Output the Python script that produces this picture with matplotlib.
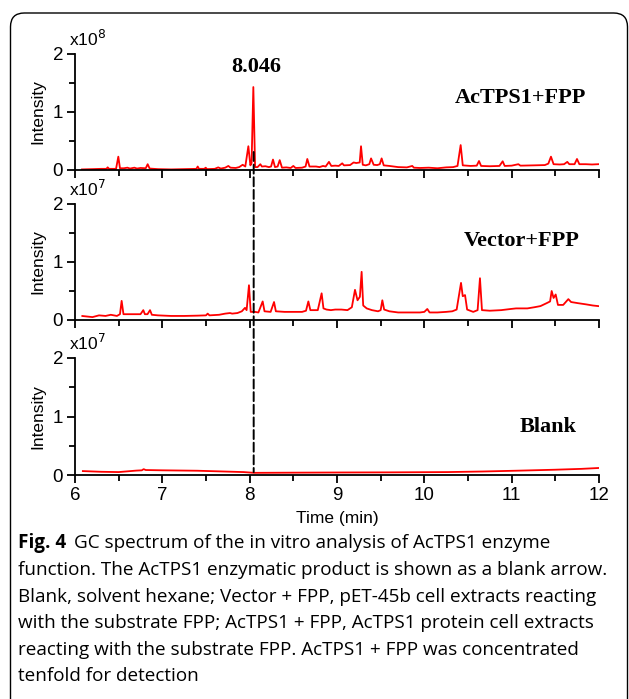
import matplotlib
matplotlib.use("Agg")
import matplotlib.pyplot as plt
import numpy as np
from matplotlib.patches import FancyBboxPatch, ConnectionPatch
from matplotlib.ticker import MultipleLocator

# Retention time (min) and intensity
# AcTPS1 + FPP, intensity in units of 1e8
ac_time = [6.08, 6.20, 6.30, 6.36, 6.374, 6.39, 6.47, 6.496, 6.515, 6.56, 6.60, 6.63, 6.68,
           6.71, 6.75, 6.81, 6.832, 6.855, 6.95, 7.10, 7.25, 7.39, 7.405, 7.42, 7.48, 7.497,
           7.51, 7.60, 7.64, 7.67, 7.72, 7.756, 7.78, 7.84, 7.88, 7.92, 7.95, 7.985, 8.008,
           8.022, 8.042, 8.062, 8.09, 8.122, 8.14, 8.18, 8.22, 8.245, 8.267, 8.29, 8.32, 8.344,
           8.37, 8.42, 8.47, 8.50, 8.525, 8.60, 8.64, 8.66, 8.685, 8.76, 8.80, 8.84, 8.87,
           8.908, 8.935, 8.98, 9.02, 9.06, 9.08, 9.15, 9.19, 9.22, 9.26, 9.275, 9.295, 9.33,
           9.37, 9.39, 9.42, 9.46, 9.49, 9.511, 9.535, 9.60, 9.70, 9.80, 9.862, 9.88, 9.95,
           10.05, 10.15, 10.25, 10.33, 10.38, 10.416, 10.44, 10.53, 10.60, 10.626, 10.65,
           10.75, 10.86, 10.897, 10.92, 11.00, 11.077, 11.10, 11.25, 11.38, 11.42, 11.45,
           11.48, 11.55, 11.60, 11.637, 11.66, 11.72, 11.748, 11.775, 11.85, 11.92, 11.99]
ac_int = [0.010, 0.015, 0.020, 0.020, 0.046, 0.020, 0.020, 0.230, 0.030, 0.030, 0.040, 0.025,
          0.040, 0.025, 0.035, 0.030, 0.100, 0.025, 0.015, 0.010, 0.015, 0.020, 0.060, 0.020,
          0.020, 0.040, 0.015, 0.020, 0.045, 0.025, 0.040, 0.070, 0.040, 0.035, 0.050, 0.090,
          0.060, 0.410, 0.080, 0.120, 1.430, 0.050, 0.050, 0.100, 0.060, 0.065, 0.050, 0.060,
          0.180, 0.050, 0.060, 0.170, 0.040, 0.045, 0.035, 0.070, 0.035, 0.040, 0.060, 0.190,
          0.060, 0.060, 0.050, 0.070, 0.060, 0.140, 0.070, 0.075, 0.070, 0.115, 0.080, 0.085,
          0.130, 0.120, 0.130, 0.410, 0.090, 0.080, 0.100, 0.200, 0.090, 0.085, 0.100, 0.200,
          0.080, 0.070, 0.050, 0.045, 0.070, 0.040, 0.035, 0.040, 0.030, 0.045, 0.050, 0.070,
          0.430, 0.080, 0.070, 0.075, 0.155, 0.070, 0.065, 0.070, 0.150, 0.070, 0.075, 0.100,
          0.075, 0.080, 0.085, 0.110, 0.230, 0.100, 0.095, 0.100, 0.140, 0.100, 0.100, 0.190,
          0.100, 0.100, 0.095, 0.100]

# Vector + FPP, intensity in units of 1e7
vec_time = [6.084, 6.20, 6.275, 6.35, 6.41, 6.48, 6.515, 6.534, 6.555, 6.60, 6.68, 6.75, 6.782,
            6.80, 6.83, 6.859, 6.88, 6.95, 7.10, 7.25, 7.40, 7.50, 7.519, 7.54, 7.65, 7.72,
            7.775, 7.80, 7.86, 7.91, 7.947, 7.965, 7.992, 8.012, 8.06, 8.10, 8.149, 8.17, 8.24,
            8.279, 8.30, 8.40, 8.50, 8.60, 8.645, 8.672, 8.695, 8.78, 8.824, 8.845, 8.88, 8.93,
            8.98, 9.05, 9.12, 9.17, 9.206, 9.235, 9.262, 9.282, 9.30, 9.34, 9.40, 9.47, 9.50,
            9.519, 9.54, 9.60, 9.70, 9.82, 9.95, 10.00, 10.034, 10.06, 10.15, 10.25, 10.32,
            10.37, 10.42, 10.44, 10.466, 10.49, 10.56, 10.61, 10.637, 10.66, 10.75, 10.88,
            10.99, 11.05, 11.10, 11.18, 11.26, 11.33, 11.40, 11.44, 11.458, 11.48, 11.504,
            11.53, 11.59, 11.649, 11.68, 11.76, 11.85, 11.93, 11.99]
vec_int = [0.069, 0.050, 0.080, 0.070, 0.090, 0.070, 0.100, 0.330, 0.100, 0.100, 0.100, 0.100,
           0.170, 0.100, 0.100, 0.170, 0.090, 0.080, 0.070, 0.070, 0.075, 0.080, 0.110, 0.080,
           0.090, 0.110, 0.120, 0.110, 0.120, 0.150, 0.210, 0.170, 0.600, 0.140, 0.140, 0.130,
           0.320, 0.150, 0.140, 0.310, 0.150, 0.140, 0.140, 0.140, 0.160, 0.320, 0.170, 0.170,
           0.460, 0.200, 0.180, 0.170, 0.180, 0.180, 0.170, 0.220, 0.520, 0.340, 0.400, 0.830,
           0.250, 0.200, 0.170, 0.150, 0.170, 0.340, 0.180, 0.150, 0.130, 0.130, 0.130, 0.140,
           0.190, 0.130, 0.130, 0.140, 0.150, 0.180, 0.640, 0.410, 0.430, 0.180, 0.140, 0.170,
           0.720, 0.170, 0.160, 0.170, 0.190, 0.200, 0.200, 0.200, 0.220, 0.240, 0.290, 0.320,
           0.500, 0.380, 0.440, 0.260, 0.260, 0.360, 0.310, 0.290, 0.270, 0.250, 0.240]

# Blank (hexane), intensity in units of 1e7
blank_time = [6.09, 6.30, 6.50, 6.70, 6.765, 6.786, 6.81, 7.00, 7.40, 7.70, 7.93, 8.05, 8.50,
              9.04, 9.60, 10.27, 10.67, 11.10, 11.49, 11.80, 12.00]
blank_int = [0.067, 0.055, 0.050, 0.075, 0.080, 0.100, 0.085, 0.080, 0.073, 0.060, 0.050, 0.037,
             0.040, 0.043, 0.045, 0.050, 0.060, 0.075, 0.090, 0.105, 0.120]

panel_names = ["AcTPS1+FPP", "Vector+FPP", "Blank"]
panel_exps = [8, 7, 7]
product_rt = 8.046

W, H = 629, 699
fig = plt.figure(figsize=(W / 100, H / 100), dpi=100)

# rounded frame around figure + caption
frame = FancyBboxPatch((10.5 / W, -0.05), 617 / W, 1.05 - 13 / H,
                       boxstyle="round,pad=0,rounding_size=0.022",
                       transform=fig.transFigure, fill=False, ec="black", lw=1.0,
                       mutation_aspect=W / H)
fig.patches.append(frame)

sans = "Liberation Sans"
serif = "Liberation Serif"

left, right = 75 / W, 599 / W
panels = [(54, 170), (204, 320), (358, 475)]
axes = []
for top, bot in panels:
    ax = fig.add_axes([left, 1 - bot / H, right - left, (bot - top) / H])
    axes.append(ax)

traces = [(ac_time, ac_int), (vec_time, vec_int), (blank_time, blank_int)]
for i, ax in enumerate(axes):
    t, y = traces[i]
    ax.plot(t, y, color="#ff0000", lw=1.3)
    ax.set_xlim(6, 12)
    ax.set_ylim(0, 2)
    for s in ["top", "right"]:
        ax.spines[s].set_visible(False)
    for s in ["left", "bottom"]:
        ax.spines[s].set_linewidth(1.3)
    ax.xaxis.set_major_locator(MultipleLocator(1))
    ax.xaxis.set_minor_locator(MultipleLocator(0.5))
    ax.yaxis.set_major_locator(MultipleLocator(1))
    ax.yaxis.set_minor_locator(MultipleLocator(0.5))
    ax.tick_params(which="major", length=5.5, width=1.3, labelsize=13, pad=3)
    ax.tick_params(which="minor", length=4, width=1.3)
    ax.set_yticks([0, 1, 2])
    ax.set_yticklabels(["0", "1", "2"], fontfamily=sans, fontsize=13.5)
    if i < 2:
        ax.tick_params(axis="x", labelbottom=False)
    ax.set_ylabel("Intensity", fontfamily=sans, fontsize=12.5, labelpad=5)
    ax.text(-0.012, 1.045, r"x10$^{%d}$" % panel_exps[i], transform=ax.transAxes,
            fontfamily=sans, fontsize=12.5, ha="left", va="bottom")

axes[2].set_xticks([6, 7, 8, 9, 10, 11, 12])
axes[2].set_xticklabels(["6", "7", "8", "9", "10", "11", "12"], fontfamily=sans, fontsize=13.5)
axes[2].set_xlabel("Time (min)", fontfamily=sans, fontsize=12.5, labelpad=5)

axes[0].text(8.08, 1.78, "8.046", fontfamily=serif, fontweight="bold", fontsize=16,
             ha="center", va="center")
axes[0].text(11.10, 1.24, panel_names[0], fontfamily=serif, fontweight="bold", fontsize=16,
             ha="center", va="center")
axes[1].text(11.11, 1.36, panel_names[1], fontfamily=serif, fontweight="bold", fontsize=16,
             ha="center", va="center")
axes[2].text(11.42, 0.82, panel_names[2], fontfamily=serif, fontweight="bold", fontsize=16,
             ha="center", va="center")

# dashed marker for the product retention time, running through all panels
con = ConnectionPatch(xyA=(product_rt, 0.31), coordsA=axes[0].transData,
                      xyB=(product_rt, 0.05), coordsB=axes[2].transData,
                      color="black", lw=1.4, linestyle=(0, (4.6, 1.9)))
fig.add_artist(con)

# caption
cap = fig.add_axes([0, 0, 1, 1])
cap.axis("off")
cap.set_xlim(0, W)
cap.set_ylim(H, 0)
cap_font = "Open Sans"
cap_size = 13.6
lines = [
    "GC spectrum of the in vitro analysis of AcTPS1 enzyme",
    "function. The AcTPS1 enzymatic product is shown as a blank arrow.",
    "Blank, solvent hexane; Vector + FPP, pET-45b cell extracts reacting",
    "with the substrate FPP; AcTPS1 + FPP, AcTPS1 protein cell extracts",
    "reacting with the substrate FPP. AcTPS1 + FPP was concentrated",
    "tenfold for detection",
]
line_y = [543, 570, 597, 623, 650, 676]
t1 = cap.text(18, line_y[0], "Fig. 4", fontfamily=cap_font, fontweight="bold",
              fontsize=cap_size, va="center", ha="left")
cap.annotate(lines[0], xy=(1, 0.5), xycoords=t1, xytext=(6, 0), textcoords="offset points",
             fontfamily=cap_font, fontsize=cap_size, va="center", ha="left")
for txt, yy in zip(lines[1:], line_y[1:]):
    cap.text(18, yy, txt, fontfamily=cap_font, fontsize=cap_size, va="center", ha="left")

fig.savefig("out.png", dpi=100)
